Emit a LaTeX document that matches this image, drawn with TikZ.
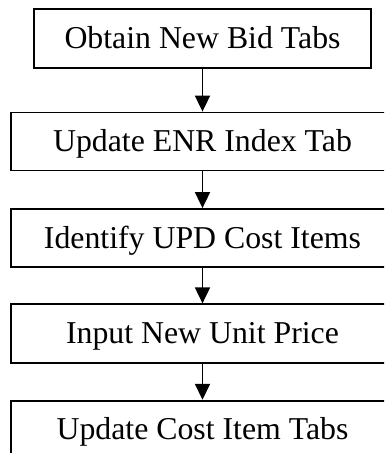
\documentclass[tikz,border=0pt]{standalone}
\usepackage{fontspec}
\setmainfont{Liberation Serif}
\usetikzlibrary{arrows.meta}
\begin{document}
\begin{tikzpicture}[x=1pt,y=-1pt,
  stepbox/.style={draw, line width=1.8pt, rectangle, inner sep=0pt,
    font=\fontsize{31.8}{36}\selectfont, text height=20pt, text depth=0pt},
  flow/.style={line width=1.8pt, -{Triangle[width=15pt,length=16pt]}}]
\useasboundingbox (0,0) rectangle (384,453);
\clip (0,0) rectangle (384,453);
\node[stepbox, minimum width=336.4pt, minimum height=58.4pt] (a) at (202.5,38.5) {Obtain New Bid Tabs};
\node[stepbox, minimum width=383pt, minimum height=58pt] (b) at (202.5,141.5) {Update ENR Index Tab};
\node[stepbox, minimum width=383pt, minimum height=58pt] (c) at (202.5,238) {Identify UPD Cost Items};
\node[stepbox, minimum width=383pt, minimum height=58.4pt] (d) at (202.5,333.5) {Input New Unit Price};
\node[stepbox, minimum width=383pt, minimum height=58pt] (e) at (202.5,429.7) {Update Cost Item Tabs};
\draw[flow] (a.south) -- (b.north);
\draw[flow] (b.south) -- (c.north);
\draw[flow] (c.south) -- (d.north);
\draw[flow] (d.south) -- (e.north);
\end{tikzpicture}
\end{document}
